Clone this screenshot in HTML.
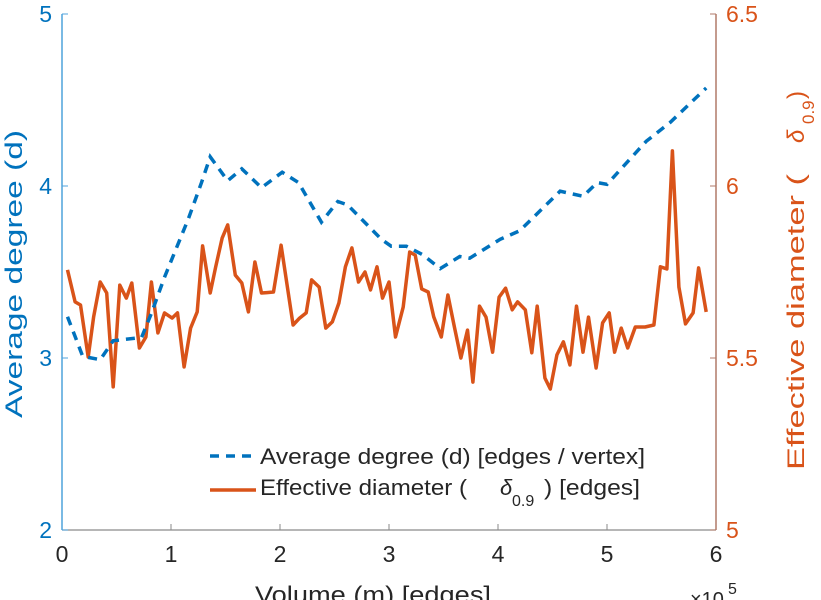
<!DOCTYPE html>
<html><head><meta charset="utf-8">
<style>
html,body{margin:0;padding:0;background:#fff;}
svg{display:block;font-family:"Liberation Sans",sans-serif;}
</style></head>
<body>
<svg id="chart" width="821" height="600" viewBox="0 0 821 600" xmlns="http://www.w3.org/2000/svg">
  <g id="axes"></g>
  <g id="series"></g>
  <g id="legend">
    <line x1="210" y1="456" x2="252" y2="456" stroke="#0072BD" stroke-width="3.5" stroke-dasharray="9,7"/>
    <text x="260" y="464" font-size="22" fill="#262626" textLength="385" lengthAdjust="spacingAndGlyphs">Average degree (d) [edges / vertex]</text>
    <line x1="210" y1="490" x2="256" y2="490" stroke="#D95319" stroke-width="3.5"/>
    <text x="260" y="495" font-size="22" fill="#262626" textLength="207" lengthAdjust="spacingAndGlyphs">Effective diameter (</text>
    <text x="500" y="495" font-size="22" font-style="italic" fill="#262626">δ</text>
    <text x="512" y="506" font-size="16" fill="#262626">0.9</text>
    <text x="544" y="495" font-size="22" fill="#262626" textLength="96" lengthAdjust="spacingAndGlyphs">) [edges]</text>
  </g>
</svg>
<script>
// Average degree series (x in units of 1e5 edges)
const degreeX = [0.05,0.19,0.35,0.47,0.73,0.82,0.94,1.16,1.28,1.36,1.52,1.65,1.83,2.02,2.17,2.38,2.53,2.62,2.93,3.02,3.16,3.31,3.47,3.65,3.74,4.02,4.20,4.57,4.78,4.91,5.00,5.36,5.58,5.91];
const degreeY = [3.24,3.01,2.99,3.10,3.12,3.26,3.47,3.81,4.02,4.17,4.03,4.10,3.99,4.08,4.02,3.79,3.91,3.89,3.69,3.65,3.65,3.60,3.52,3.59,3.58,3.69,3.74,3.97,3.94,4.02,4.01,4.26,4.37,4.57];
// Effective diameter series
const diamX = [0.05,0.12,0.17,0.24,0.29,0.35,0.41,0.47,0.53,0.59,0.64,0.71,0.77,0.82,0.88,0.94,1.01,1.06,1.12,1.18,1.24,1.29,1.36,1.41,1.47,1.52,1.59,1.65,1.71,1.77,1.83,1.88,1.94,2.01,2.12,2.18,2.24,2.29,2.36,2.42,2.48,2.54,2.60,2.66,2.72,2.78,2.83,2.89,2.94,3.00,3.06,3.13,3.19,3.24,3.30,3.36,3.41,3.48,3.54,3.60,3.66,3.72,3.77,3.83,3.89,3.95,4.01,4.07,4.13,4.18,4.25,4.31,4.36,4.43,4.48,4.54,4.60,4.66,4.72,4.78,4.83,4.90,4.96,5.02,5.07,5.13,5.19,5.26,5.35,5.43,5.49,5.55,5.60,5.66,5.72,5.79,5.84,5.91];
const diamY = [5.756,5.663,5.654,5.503,5.619,5.721,5.689,5.416,5.712,5.674,5.718,5.529,5.561,5.721,5.573,5.631,5.616,5.631,5.474,5.587,5.634,5.826,5.689,5.765,5.849,5.887,5.741,5.718,5.634,5.779,5.689,5.690,5.692,5.828,5.596,5.616,5.631,5.727,5.706,5.587,5.605,5.660,5.765,5.820,5.721,5.750,5.698,5.765,5.674,5.721,5.561,5.648,5.808,5.799,5.701,5.692,5.620,5.561,5.683,5.590,5.500,5.581,5.430,5.651,5.619,5.517,5.677,5.703,5.640,5.663,5.640,5.515,5.651,5.442,5.410,5.509,5.547,5.480,5.651,5.517,5.619,5.471,5.602,5.631,5.517,5.587,5.529,5.590,5.590,5.596,5.765,5.759,6.102,5.706,5.599,5.631,5.762,5.634];
const xTicks = [0,1,2,3,4,5,6];
const leftTicks = [2,3,4,5];
const rightTicks = [5,5.5,6,6.5];
const rightTickLabels = ["5","5.5","6","6.5"];

const L=62,R=716,T=14,B=530;
const xs = v => L + (v-0)/(6-0)*(R-L);
const yl = v => B - (v-2)/(5-2)*(B-T);
const yr = v => B - (v-5)/(6.5-5)*(B-T);
const NS="http://www.w3.org/2000/svg";
function mk(tag, attrs, parent, txt){
  const e=document.createElementNS(NS,tag);
  for(const k in attrs) e.setAttribute(k,attrs[k]);
  if(txt!==undefined) e.textContent=txt;
  parent.appendChild(e); return e;
}
const axes=document.getElementById('axes');
const series=document.getElementById('series');

// bottom axis
let e=mk('line',{x1:L,y1:B,x2:R,y2:B,stroke:'#8a8a8a','stroke-width':1.2},axes);


xTicks.forEach(t=>{
  const x=xs(t);
  let tk=mk('line',{x1:x,y1:B,x2:x,y2:B-6,stroke:'#8a8a8a','stroke-width':1},axes);
  
  
  let lb=mk('text',{x:x,y:B+32,'font-size':23,fill:'#262626','text-anchor':'middle'},axes,String(t));
  
  
});
e=mk('text',{x:255,y:603,'font-size':24,fill:'#262626',textLength:236,lengthAdjust:'spacingAndGlyphs'},axes,'Volume (m) [edges]');


e=mk('text',{x:690,y:606,'font-size':20,fill:'#262626'},axes,'×10');


e=mk('text',{x:728,y:594,'font-size':16,fill:'#262626'},axes,'5');



// left axis
e=mk('line',{x1:L,y1:T,x2:L,y2:B,stroke:'#4fa3dc','stroke-width':1.5},axes);


leftTicks.forEach(t=>{
  const y=yl(t);
  let tk=mk('line',{x1:L,y1:y,x2:L+6,y2:y,stroke:'#4fa3dc','stroke-width':1},axes);
  
  
  let lb=mk('text',{x:L-10,y:y+8,'font-size':23,fill:'#0072BD','text-anchor':'end'},axes,String(t));
  
  
});
e=mk('text',{x:22,y:418,'font-size':24,fill:'#0072BD',transform:'rotate(-90 22 418)',textLength:288,lengthAdjust:'spacingAndGlyphs'},axes,'Average degree (d)');



// right axis
e=mk('line',{x1:R,y1:T,x2:R,y2:B,stroke:'#b07a68','stroke-width':1.5},axes);


rightTicks.forEach((t,i)=>{
  const y=yr(t);
  let tk=mk('line',{x1:R,y1:y,x2:R-6,y2:y,stroke:'#b07a68','stroke-width':1},axes);
  
  
  let lb=mk('text',{x:R+10,y:y+8,'font-size':23,fill:'#D95319','text-anchor':'start'},axes,rightTickLabels[i]);
  
  
});
e=mk('text',{x:804,y:470,'font-size':24,fill:'#D95319',transform:'rotate(-90 804 470)',textLength:296,lengthAdjust:'spacingAndGlyphs'},axes,'Effective diameter (');


e=mk('text',{x:804,y:143,'font-size':24,fill:'#D95319','font-style':'italic',transform:'rotate(-90 804 143)'},axes,'δ');


e=mk('text',{x:814,y:124,'font-size':17,fill:'#D95319',transform:'rotate(-90 814 124)'},axes,'0.9');


e=mk('text',{x:804,y:99,'font-size':24,fill:'#D95319',transform:'rotate(-90 804 99)'},axes,')');



// series
let pts=diamX.map((x,i)=>xs(x).toFixed(1)+','+yr(diamY[i]).toFixed(1)).join(' ');
e=mk('polyline',{points:pts,fill:'none',stroke:'#D95319','stroke-width':3.5,'stroke-linejoin':'round'},series);


pts=degreeX.map((x,i)=>xs(x).toFixed(1)+','+yl(degreeY[i]).toFixed(1)).join(' ');
e=mk('polyline',{points:pts,fill:'none',stroke:'#0072BD','stroke-width':3.5,'stroke-dasharray':'9,7'},series);


</script>
</body></html>
